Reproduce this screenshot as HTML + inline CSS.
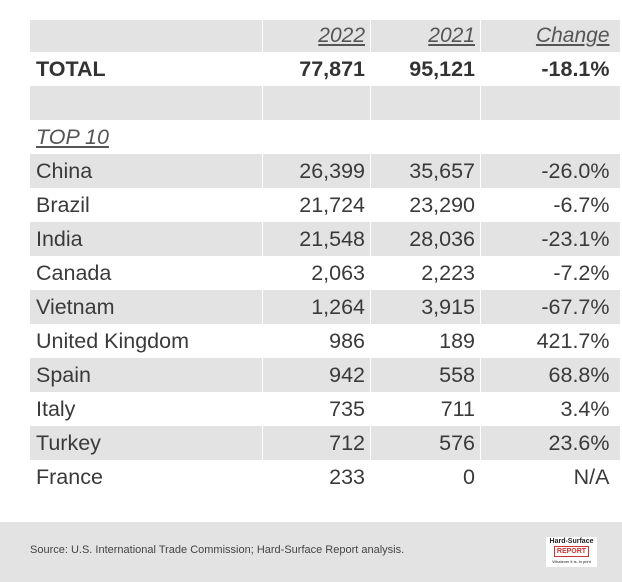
<!DOCTYPE html>
<html><head><meta charset="utf-8"><style>
body{margin:0;width:622px;height:582px;background:#fff;position:relative;overflow:hidden;font-family:"Liberation Sans",Arial,sans-serif;}
table{position:absolute;left:29px;top:20px;border-collapse:collapse;width:590px;table-layout:fixed}
td{height:34px;padding:0 5px 0 6px;font-size:21.5px;color:#3a3a3a;border-left:1px solid #fff;white-space:nowrap;overflow:visible}
td.n{text-align:right}
td.l{padding-right:10px}
tr.g td{background:#e3e3e3}
tr.h td{height:32px;color:#555;font-style:italic;font-size:21px}
tr.h td span{text-decoration:underline}
tr.t td{font-weight:bold;color:#333}
.foot{position:absolute;left:0;top:522px;width:622px;height:60px;background:#e3e3e3}
.src{position:absolute;left:30px;top:22px;font-size:11px;color:#444}
.logo{position:absolute;left:546px;top:15px;width:51px;height:30px;background:#fff;text-align:center;font-size:7px;font-weight:bold;color:#222;line-height:9px}
.logo i{display:block;color:#c33;font-style:normal;border:1px solid #c33;margin:0 8px}
</style></head><body>
<table>
<colgroup><col style="width:233px"><col style="width:108px"><col style="width:110px"><col style="width:139px"></colgroup>
<tr class="g h"><td></td><td class="n"><span>2022</span></td><td class="n"><span>2021</span></td><td class="n l"><span>Change</span></td></tr>
<tr class="t"><td>TOTAL</td><td class="n">77,871</td><td class="n">95,121</td><td class="n l">-18.1%</td></tr>
<tr class="g"><td></td><td></td><td></td><td></td></tr>
<tr><td style="font-style:italic;color:#555"><span style="text-decoration:underline">TOP 10</span></td><td></td><td></td><td></td></tr>
<tr class="g"><td>China</td><td class="n">26,399</td><td class="n">35,657</td><td class="n l">-26.0%</td></tr>
<tr><td>Brazil</td><td class="n">21,724</td><td class="n">23,290</td><td class="n l">-6.7%</td></tr>
<tr class="g"><td>India</td><td class="n">21,548</td><td class="n">28,036</td><td class="n l">-23.1%</td></tr>
<tr><td>Canada</td><td class="n">2,063</td><td class="n">2,223</td><td class="n l">-7.2%</td></tr>
<tr class="g"><td>Vietnam</td><td class="n">1,264</td><td class="n">3,915</td><td class="n l">-67.7%</td></tr>
<tr><td>United Kingdom</td><td class="n">986</td><td class="n">189</td><td class="n l">421.7%</td></tr>
<tr class="g"><td>Spain</td><td class="n">942</td><td class="n">558</td><td class="n l">68.8%</td></tr>
<tr><td>Italy</td><td class="n">735</td><td class="n">711</td><td class="n l">3.4%</td></tr>
<tr class="g"><td>Turkey</td><td class="n">712</td><td class="n">576</td><td class="n l">23.6%</td></tr>
<tr><td>France</td><td class="n">233</td><td class="n">0</td><td class="n l">N/A</td></tr>
</table>
<div class="foot"><div class="src">Source: U.S. International Trade Commission; Hard-Surface Report analysis.</div>
<div class="logo">Hard-Surface<i>REPORT</i><span style="font-size:4px;font-weight:normal">Whatever it is, in print</span></div></div>
</body></html>
